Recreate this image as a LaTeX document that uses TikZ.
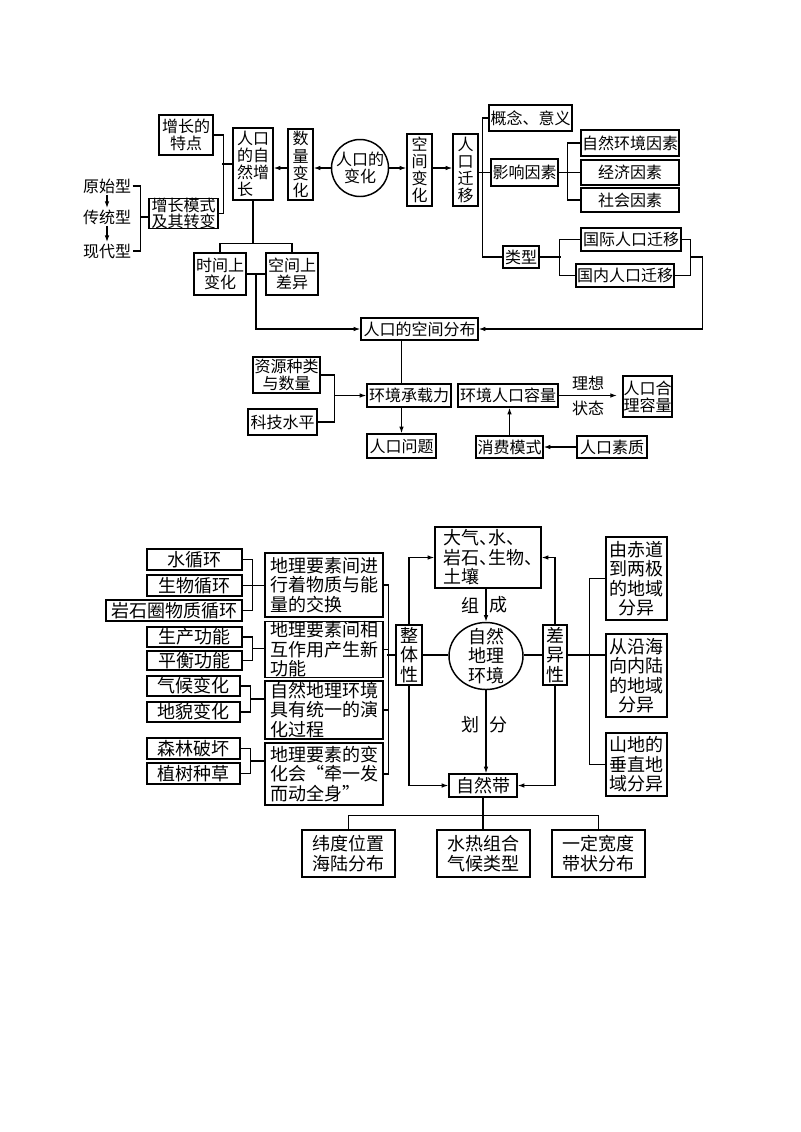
\documentclass[tikz,border=0pt]{standalone}
\usepackage{fontspec}
\setmainfont{Noto Sans CJK SC}
\usetikzlibrary{arrows.meta,calc,shapes.geometric}
\newcommand\ftop{\fontsize{12}{12.8}\selectfont}
\newcommand\fbot{\fontsize{13.5}{14.6}\selectfont}
\newcommand\mybox[7][]{\node[box,#1,minimum width={(#5-#3)*0.75pt},minimum height={(#6-#4)*0.75pt}] (#2) at ({(#3+#5)/2},{(#4+#6)/2}) {#7};}
\tikzset{
  box/.style={draw,line width=1.1pt,inner sep=0pt,align=center,font=\ftop},
  txt/.style={inner sep=1pt,font=\ftop},
  ln/.style={line width=0.9pt},
  arr/.style={-{Latex[length=5pt,width=3.5pt]}}
}
\begin{document}
\begin{tikzpicture}[x=0.75pt,y=-0.75pt]
\fill[white] (0,0) rectangle (800,1132);
\useasboundingbox (0,0) rectangle (800,1132);
% ---------- top part ----------
\mybox{tz}{159}{115}{213}{155}{增长的\\特点}
\mybox[font={\fontsize{12}{11.5}\selectfont}]{ms}{149}{199}{218}{228}{增长模式\\及其转变}
\mybox[align=left]{zr}{233}{128}{273}{200}{人口\\的自\\然增\\长}
\mybox{sl}{288}{129}{313}{200}{数\\量\\变\\化}
\node[draw,circle,line width=1.1pt,minimum size={57*0.75pt},inner sep=0pt,
  label={[font=\ftop,align=center]center:{人口的\\变化}}] (rk) at (360,168) {};
\mybox{kj}{407}{134}{432}{206}{空\\间\\变\\化}
\mybox{qy}{453}{134}{478}{206}{人\\口\\迁\\移}
\mybox{gn}{489}{105}{572}{131}{概念、意义}
\mybox{yx}{491}{159}{558}{186}{影响因素}
\mybox{zrh}{581}{130}{679}{156}{自然环境因素}
\mybox{jj}{581}{160}{679}{185}{经济因素}
\mybox{sh}{581}{188}{679}{212}{社会因素}
\mybox{lx}{503}{246}{539}{268}{类型}
\mybox{gj}{581}{228}{681}{251}{国际人口迁移}
\mybox{gnq}{576}{264}{674}{287}{国内人口迁移}
\mybox{sj}{194}{253}{246}{295}{时间上\\变化}
\mybox{kc}{266}{253}{318}{295}{空间上\\差异}
\mybox{kf}{361}{318}{478}{340}{人口的空间分布}
\mybox{zy}{253}{357}{320}{393}{资源种类\\与数量}
\mybox{kjsp}{248}{409}{317}{435}{科技水平}
\mybox{cz}{367}{384}{451}{407}{环境承载力}
\mybox{wt}{367}{434}{436}{458}{人口问题}
\mybox{rl}{458}{384}{558}{407}{环境人口容量}
\mybox{hl}{623}{376}{672}{417}{人口合\\理容量}
\mybox{xf}{476}{436}{543}{458}{消费模式}
\mybox{sz}{577}{436}{647}{458}{人口素质}
\node[txt] (ysx) at (107,186) {原始型};
\node[txt] (ctx) at (107,217) {传统型};
\node[txt] (xdx) at (107,251) {现代型};
\node[txt] (lxl) at (588,383) {理想};
\node[txt] (ztl) at (588,408) {状态};
% connectors top
\draw[ln,arr] (rk.west) -- (sl.east |- rk.west);
\draw[ln,arr] (sl.west |- rk.west) -- (zr.east |- rk.west);
\draw[ln,arr] (rk.east) -- (kj.west |- rk.east);
\draw[ln,arr] (kj.east |- rk.east) -- (qy.west |- rk.east);
\draw[ln] (qy.east |- yx.west) -- (yx.west);
\draw[ln] (gn.west) -- ++(-6,0) |- (lx.west);
\draw[ln] (zrh.west) -- ++(-13,0) |- (sh.west);
\draw[ln] (yx.east) -- (jj.west);
\draw[ln] (lx.east) -- ++(21,0);
\draw[ln] (gj.west) -- ++(-21,0) |- (gnq.west);
\draw[ln] (gj.east) -- ++(9,0) |- (gnq.east);
\draw[ln,arr] (lx.east -| gj.east) ++(9,0) -- ++(12,0) |- (kf.east);
\draw[ln,arr] (ysx.south) -- (ctx.north);
\draw[ln,arr] (ctx.south) -- (xdx.north);
\draw[ln] (ysx.east) -- ++(8,0) |- (xdx.east);
\draw[ln] (ctx.east) ++(8,0) -- (ms.west |- ctx.east);
\draw[ln] (tz.east) -- ++(10,0) |- (ms.east);
\draw[ln] (zr.west) -- ++(-10,0);
\draw[ln] (zr.south) -- ++(0,43) coordinate (zj);
\draw[ln] (sj.north) |- (zj) -| (kc.north);
\draw[ln] (sj.east) -- (kc.west);
\draw[ln,arr] ($(sj.east)!0.5!(kc.west)$) |- (kf.west);
\draw[ln] (kf.south -| wt.north) -- (cz.north -| wt.north);
\draw[ln,arr] (cz.south -| wt.north) -- (wt.north);
\draw[ln] (zy.east) -- ++(14,0) |- (kjsp.east);
\draw[ln,arr] ($(zy.east)+(14,0)$) |- (cz.west);
\draw[ln,arr,shorten >=4pt] (rl.east) -- (hl.west |- rl.east);
\draw[ln,arr] (xf.north) -- (rl.south -| xf.north);
\draw[ln,arr] (sz.west) -- (xf.east);
% ---------- bottom part ----------
\tikzset{box/.append style={font=\fbot}}
\mybox{sx}{147}{549}{242}{570}{水循环}
\mybox{sw}{147}{575}{242}{596}{生物循环}
\mybox{ys}{106}{600}{242}{621}{岩石圈物质循环}
\mybox[align=left]{ba}{265}{553}{383}{617}{地理要素间进\\行着物质与能\\量的交换}
\mybox{sc}{147}{627}{242}{647}{生产功能}
\mybox{ph}{147}{651}{242}{670}{平衡功能}
\mybox[align=left]{bb}{265}{622}{383}{677}{地理要素间相\\互作用产生新\\功能}
\mybox{qh}{147}{676}{240}{696}{气候变化}
\mybox{dm}{147}{702}{240}{722}{地貌变化}
\mybox[align=left]{bc}{265}{681}{383}{739}{自然地理环境\\具有统一的演\\化过程}
\mybox{slp}{147}{738}{240}{759}{森林破坏}
\mybox{zs}{147}{763}{240}{784}{植树种草}
\mybox[align=left]{bd}{265}{743}{383}{805}{地理要素的变\\化会“牵一发\\而动全身”}
\mybox{zt}{396}{625}{422}{685}{整\\体\\性}
\mybox{cy}{543}{625}{567}{685}{差\\异\\性}
\mybox[align=left,font={\fbot\addfontfeatures{RawFeature=+halt}}]{dq}{435}{527}{541}{588}{大气、水、\\岩石、生物、\\土壤}
\node[draw,ellipse,line width=1.1pt,minimum width={74*0.75pt},minimum height={67*0.75pt},inner sep=0pt,
  label={[font=\fbot,align=center]center:{自然\\地理\\环境}}] (hj) at (486,656) {};
\mybox{cd}{606}{537}{667}{620}{由赤道\\到两极\\的地域\\分异}
\mybox{yh}{606}{634}{667}{717}{从沿海\\向内陆\\的地域\\分异}
\mybox{sd}{606}{733}{667}{796}{山地的\\垂直地\\域分异}
\mybox{zrd}{449}{774}{517}{797}{自然带}
\mybox{wd}{302}{830}{395}{877}{纬度位置\\海陆分布}
\mybox{sr}{437}{830}{530}{877}{水热组合\\气候类型}
\mybox{yd}{552}{830}{645}{877}{一定宽度\\带状分布}
\node[txt,font=\fbot] (zu) at (470,605) {组};
\node[txt,font=\fbot] (cg) at (498,605) {成};
\node[txt,font=\fbot] (hu) at (470,725) {划};
\node[txt,font=\fbot] (fe) at (498,725) {分};
% connectors bottom
\draw[ln] (sx.east) -- ++(10,0) |- (ys.east);
\draw[ln] (sw.east) -- (ba.west |- sw.east);
\draw[ln] (sc.east) -- ++(10,0) |- (ph.east);
\coordinate (m2) at ($(sc.east)!0.5!(ph.east)$);
\draw[ln] (m2) ++(10,0) -- (bb.west |- m2);
\draw[ln] (qh.east) -- ++(10,0) |- (dm.east);
\coordinate (m3) at ($(qh.east)!0.5!(dm.east)$);
\draw[ln] (m3) ++(10,0) -- (bc.west |- m3);
\draw[ln] (slp.east) -- ++(10,0) |- (zs.east);
\coordinate (m4) at ($(slp.east)!0.5!(zs.east)$);
\draw[ln] (m4) ++(10,0) -- (bd.west |- m4);
\draw[ln] (ba.east) -- ++(5,0) |- (bd.east);
\draw[ln] (bb.east) -- ++(5,0);
\draw[ln] (bc.east) -- ++(5,0);
\draw[ln] (zt.west) -- ++(-8,0);
\draw[ln,arr] (zt.north) |- (dq.west);
\draw[ln,arr] (cy.north) |- (dq.east);
\draw[ln,arr] (dq.south -| hj.north) -- (hj.north);
\draw[ln] (zt.east) -- (hj.west |- zt.east);
\draw[ln] (hj.east |- cy.west) -- (cy.west);
\draw[ln] (cy.east) -- (yh.west |- cy.east);
\draw[ln] (cd.west) -- ++(-16,0) |- (sd.west);
\draw[ln,arr] (hj.south) -- (zrd.north -| hj.south);
\draw[ln,arr] (zt.south) |- (zrd.west);
\draw[ln,arr] (cy.south) |- (zrd.east);
\draw[ln] (zrd.south) -- ++(0,18) coordinate (bj);
\draw[ln] (wd.north) |- (bj) -| (yd.north);
\draw[ln] (bj) -- (sr.north -| bj);
\end{tikzpicture}
\end{document}
